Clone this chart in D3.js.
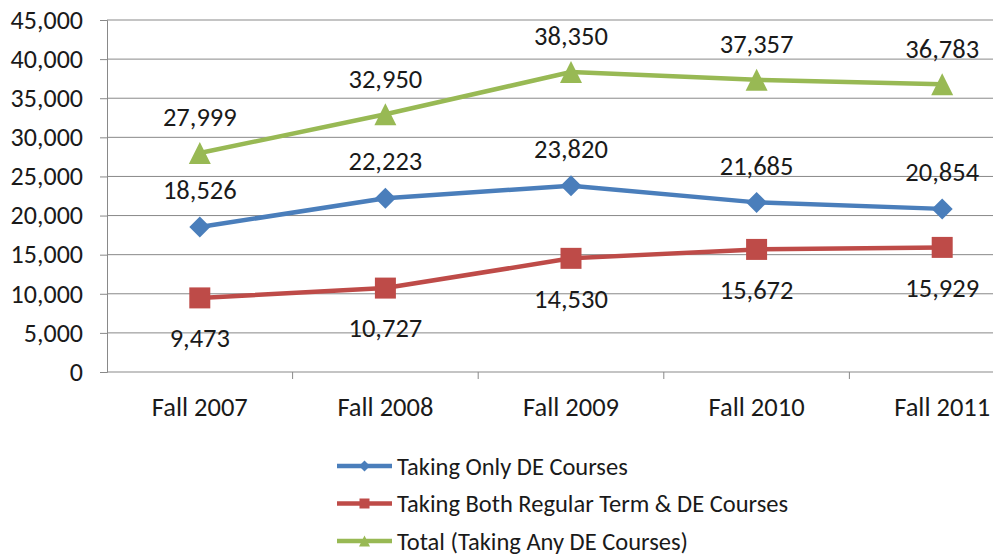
<!DOCTYPE html>
<html>
<head>
<meta charset="utf-8">
<script src="https://cdn.jsdelivr.net/npm/d3@7"></script>
<style>
  body { margin: 0; background: #fff; }
  svg text { font-family: Carlito, "Open Sans", sans-serif; fill: #1a1a1a; }
</style>
</head>
<body>
<svg id="chart" width="993" height="558"></svg>
<script>
// chart data
const terms = ["Fall 2007", "Fall 2008", "Fall 2009", "Fall 2010", "Fall 2011"];
const onlyDE = [18526, 22223, 23820, 21685, 20854];
const bothRegDE = [9473, 10727, 14530, 15672, 15929];
const totalAnyDE = [27999, 32950, 38350, 37357, 36783];
const seriesNames = ["Taking Only DE Courses", "Taking Both Regular Term & DE Courses", "Total (Taking Any DE Courses)"];
const yTicks = [0, 5000, 10000, 15000, 20000, 25000, 30000, 35000, 40000, 45000];

const svg = d3.select("#chart");
const plotLeft = 107, plotTop = 20, plotBottom = 372, bandW = 185.6;

const x = d3.scalePoint().domain(terms).range([plotLeft, plotLeft + bandW * terms.length]).padding(0.5);
const y = d3.scaleLinear().domain([0, 45000]).range([plotBottom, plotTop]);
const fmt = d3.format(",");

// marker shapes, size here = bounding box width in px
const diamond = {draw(ctx, s) { const r = s / 2; ctx.moveTo(0, -r); ctx.lineTo(r, 0); ctx.lineTo(0, r); ctx.lineTo(-r, 0); ctx.closePath(); }};
const square = {draw(ctx, s) { const r = s / 2; ctx.rect(-r, -r, s, s); }};
const triangle = {draw(ctx, s) { const r = s / 2; ctx.moveTo(0, -r); ctx.lineTo(r, r); ctx.lineTo(-r, r); ctx.closePath(); }};

// horizontal gridlines
svg.append("g").selectAll("line")
  .data(yTicks.filter(d => d > 0))
  .enter().append("line")
  .attr("x1", plotLeft).attr("x2", 993)
  .attr("y1", d => y(d)).attr("y2", d => y(d))
  .attr("stroke", "#898989").attr("stroke-width", 1);

// y axis
const yAxis = svg.append("g")
  .attr("transform", `translate(${plotLeft},0)`)
  .call(d3.axisLeft(y).tickValues(yTicks).tickFormat(fmt).tickSize(7).tickPadding(17));
yAxis.select(".domain").attr("stroke", "#898989");
yAxis.selectAll(".tick line").attr("stroke", "#898989");
yAxis.selectAll("text").style("font-size", "26px").attr("fill", "#1a1a1a");

// x axis
svg.append("line")
  .attr("x1", plotLeft).attr("x2", 993).attr("y1", plotBottom).attr("y2", plotBottom)
  .attr("stroke", "#898989");
svg.append("g").selectAll("line")
  .data(d3.range(1, terms.length))
  .enter().append("line")
  .attr("x1", i => plotLeft + bandW * i).attr("x2", i => plotLeft + bandW * i)
  .attr("y1", plotBottom).attr("y2", plotBottom + 7)
  .attr("stroke", "#898989");
svg.append("g").selectAll("text")
  .data(terms)
  .enter().append("text")
  .attr("x", d => x(d)).attr("y", 407)
  .attr("dy", "0.35em")
  .attr("text-anchor", "middle")
  .style("font-size", "26.5px")
  .text(d => d);

const series = [
  {name: seriesNames[0], values: onlyDE, color: "#4a7ebb", symbol: diamond, size: 21, legSize: 11, dy: -37},
  {name: seriesNames[1], values: bothRegDE, color: "#be4b48", symbol: square, size: 21, legSize: 10, dy: 40},
  {name: seriesNames[2], values: totalAnyDE, color: "#98b954", symbol: triangle, size: 22, legSize: 11, dy: -36}
];

const line = d3.line().x((d, i) => x(terms[i])).y(d => y(d));

series.forEach(s => {
  const g = svg.append("g");
  g.append("path")
    .datum(s.values)
    .attr("d", line)
    .attr("fill", "none")
    .attr("stroke", s.color)
    .attr("stroke-width", 4.5)
    .attr("stroke-linejoin", "round");
  g.selectAll("path.marker")
    .data(s.values)
    .enter().append("path")
    .attr("class", "marker")
    .attr("d", d3.symbol().type(s.symbol).size(s.size))
    .attr("transform", (d, i) => `translate(${x(terms[i])},${y(d)})`)
    .attr("fill", s.color);
  g.selectAll("text")
    .data(s.values)
    .enter().append("text")
    .attr("x", (d, i) => x(terms[i]))
    .attr("y", d => y(d) + s.dy)
    .attr("dy", "0.35em")
    .attr("text-anchor", "middle")
    .style("font-size", "26.5px")
    .text(d => fmt(d));
});

// legend
const legend = svg.append("g");
series.forEach((s, i) => {
  const ly = 466 + i * 37.5;
  legend.append("line")
    .attr("x1", 337).attr("x2", 392).attr("y1", ly).attr("y2", ly)
    .attr("stroke", s.color).attr("stroke-width", 4.5);
  legend.append("path")
    .attr("d", d3.symbol().type(s.symbol).size(s.legSize))
    .attr("transform", `translate(364.5,${ly})`)
    .attr("fill", s.color);
  legend.append("text")
    .attr("x", 397).attr("y", ly).attr("dy", "0.35em")
    .style("font-size", "24.5px")
    .text(s.name);
});
</script>
</body>
</html>
